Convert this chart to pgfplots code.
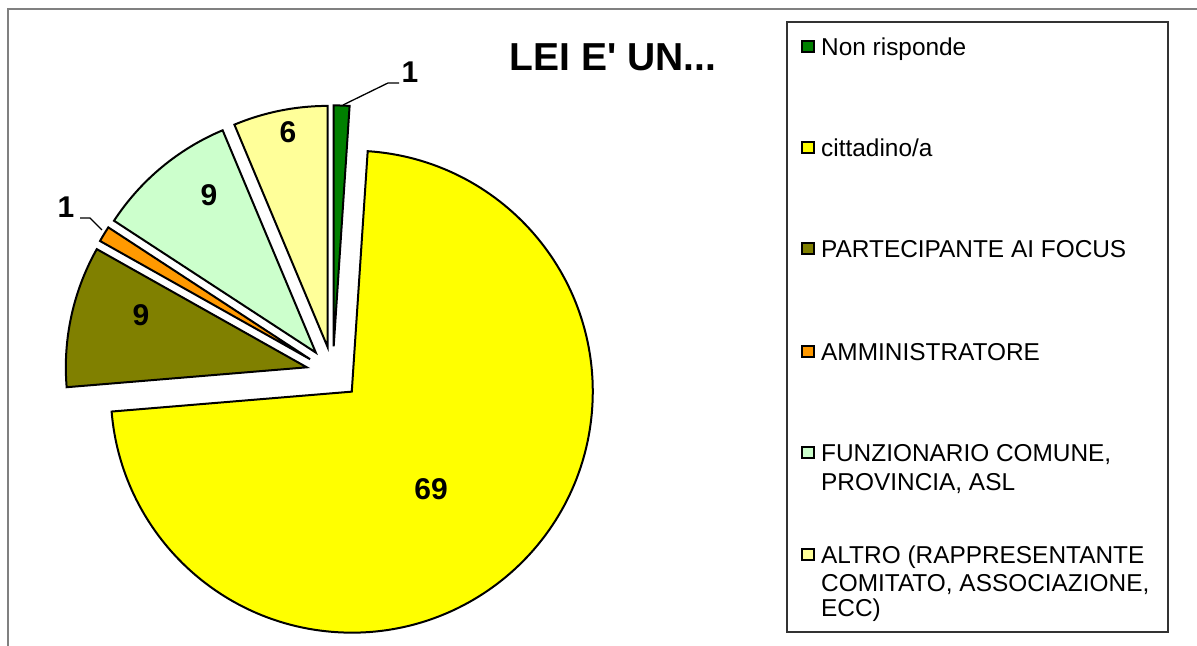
\documentclass[border=0pt]{standalone}
\usepackage{pgfplots}
\pgfplotsset{compat=1.18}
\usepackage{pgfplotstable}
\usepackage{fontspec}
\setmainfont{Liberation Sans}
\newfontfamily\plainfont{Liberation Sans}

\definecolor{cNR}{HTML}{008000}
\definecolor{cCIT}{HTML}{FFFF00}
\definecolor{cPAR}{HTML}{808000}
\definecolor{cAMM}{HTML}{FF9900}
\definecolor{cFUN}{HTML}{CCFFCC}
\definecolor{cALT}{HTML}{FFFF99}
\definecolor{frame}{HTML}{808080}

\pgfplotstableread{
name value col
NR 1 cNR
CIT 69 cCIT
PAR 9 cPAR
AMM 1 cAMM
FUN 9 cFUN
ALT 6 cALT
}\piedata

\newcommand{\lbl}{\fontsize{30bp}{34bp}\selectfont\bfseries}
\newcommand{\leg}{\fontsize{24.4bp}{28bp}\selectfont}

\begin{document}
\begin{tikzpicture}
\begin{axis}[scale only axis, width=1197bp, height=646bp,
  xmin=0, xmax=1197, ymin=0, ymax=646, hide axis, clip=false]
% outer frame (partially visible)
\draw[frame, line width=1.5bp] (axis cs:8,0) -- (axis cs:8,637) -- (axis cs:1197,637);
% sum of values
\def\total{0}
\pgfplotsforeachungrouped \i in {0,...,5}{%
  \pgfplotstablegetelem{\i}{value}\of\piedata
  \pgfmathsetmacro{\total}{\total+\pgfplotsretval}%
}
\pgfmathsetmacro{\degper}{360/\total}%
\def\cum{0}
\pgfplotsforeachungrouped \i in {0,...,5}{%
  \pgfplotstablegetelem{\i}{value}\of\piedata \let\val=\pgfplotsretval
  \pgfplotstablegetelem{\i}{col}\of\piedata \let\col=\pgfplotsretval
  \pgfmathsetmacro{\aone}{90-\degper*\cum}%
  \pgfmathsetmacro{\newcum}{\cum+\val}%
  \pgfmathsetmacro{\atwo}{90-\degper*\newcum}%
  \pgfmathsetmacro{\amid}{(\aone+\atwo)/2}%
  \pgfmathsetmacro{\vx}{332.8+26.6*cos(\amid)}%
  \pgfmathsetmacro{\vy}{273+26.6*sin(\amid)}%
  \edef\doit{\noexpand\filldraw[fill=\col,draw=black,line width=2bp]
    (axis cs:\vx,\vy) -- ++(\aone:241bp) arc[start angle=\aone,end angle=\atwo,radius=241bp] -- cycle;}%
  \doit
  \let\cum=\newcum
}
% data labels
\node[font=\lbl] at (axis cs:431,157) {69};
\node[font=\lbl] at (axis cs:141,331) {9};
\node[font=\lbl] at (axis cs:209,451) {9};
\node[font=\lbl] at (axis cs:288,514) {6};
\node[font=\lbl] at (axis cs:410,574) {1};
\node[font=\lbl] at (axis cs:66,439) {1};
% leader lines
\draw[black, line width=1.3bp] (axis cs:343,541) -- (axis cs:388,563) -- (axis cs:399,563);
\draw[black, line width=1.3bp] (axis cs:102,416) -- (axis cs:90,428) -- (axis cs:80,428);
% title
\node[font=\plainfont\fontsize{39bp}{44bp}\selectfont\bfseries] at (axis cs:613,589) {LEI E' UN...};
% legend
\draw[black!80, line width=1.2bp] (axis cs:787,14) rectangle (axis cs:1168,624);
\foreach \yy/\cc in {599/cNR,498/cCIT,397/cPAR,294/cAMM,193/cFUN,91/cALT}{
  \edef\doit{\noexpand\filldraw[fill=\cc,draw=black,line width=2bp] (axis cs:802,\yy-5.5) rectangle (axis cs:814,\yy+5.5);}\doit
}
\node[font=\leg, anchor=base west, inner sep=0pt] at (axis cs:821,590.5) {Non risponde};
\node[font=\leg, anchor=base west, inner sep=0pt] at (axis cs:821,489.5) {cittadino/a};
\node[font=\leg, anchor=base west, inner sep=0pt] at (axis cs:821,388.5) {PARTECIPANTE AI FOCUS};
\node[font=\leg, anchor=base west, inner sep=0pt] at (axis cs:821,285.5) {AMMINISTRATORE};
\node[font=\leg, anchor=base west, inner sep=0pt] at (axis cs:821,184.5) {FUNZIONARIO COMUNE,};
\node[font=\leg, anchor=base west, inner sep=0pt] at (axis cs:821,155.5) {PROVINCIA, ASL};
\node[font=\leg, anchor=base west, inner sep=0pt] at (axis cs:821,82.5) {ALTRO (RAPPRESENTANTE};
\node[font=\leg, anchor=base west, inner sep=0pt] at (axis cs:821,54.5) {COMITATO, ASSOCIAZIONE,};
\node[font=\leg, anchor=base west, inner sep=0pt] at (axis cs:821,29.5) {ECC)};
\end{axis}
\pgfresetboundingbox
\path[use as bounding box] (0,0) rectangle (1197bp,646bp);
\end{tikzpicture}
\end{document}
